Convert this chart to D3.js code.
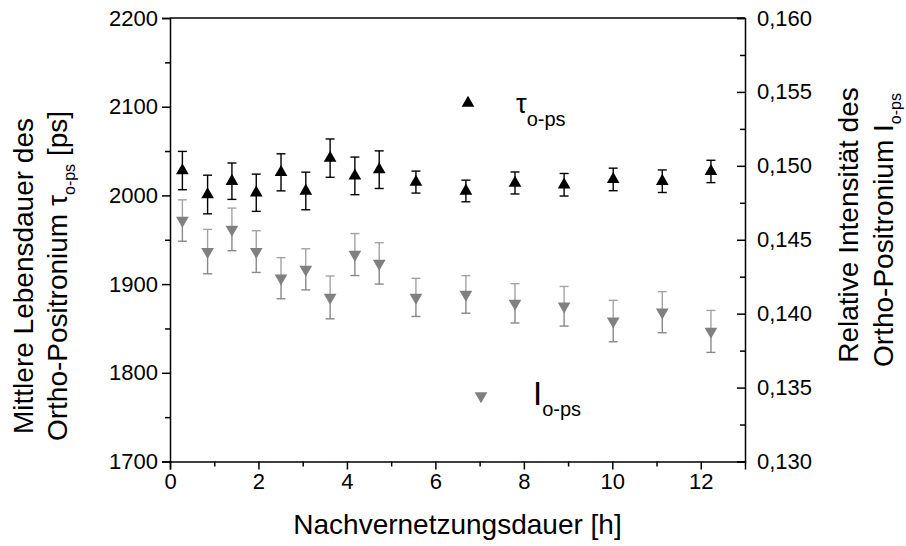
<!DOCTYPE html>
<html>
<head>
<meta charset="utf-8">
<script src="https://cdn.jsdelivr.net/npm/d3@7"></script>
<style>
  html, body { margin: 0; padding: 0; background: #fff; }
  svg { display: block; font-family: "Liberation Sans", Arial, sans-serif; }
</style>
</head>
<body>
<svg id="chart" width="906" height="546"></svg>
<script>
// ---- data ----
const hours  = [0.28, 0.85, 1.40, 1.95, 2.51, 3.07, 3.62, 4.18, 4.73, 5.56, 6.69, 7.80, 8.91, 10.02, 11.13, 12.23];
const tauOps = [2028, 2001, 2016, 2003, 2026, 2005, 2042, 2022, 2029, 2015, 2005, 2014, 2012, 2018, 2016, 2027];
const tauErr = [21.6, 21.8, 20.5, 21.0, 20.9, 21.2, 21.6, 21.2, 21.2, 12.4, 12.2, 12.4, 12.7, 12.7, 12.7, 12.6];
const iOps   = [0.1463, 0.1442, 0.1457, 0.1442, 0.1424, 0.1430, 0.1411, 0.1440, 0.1434, 0.1411, 0.1413, 0.1407, 0.1405, 0.1395, 0.1401, 0.1388];
const iErr   = [0.00140, 0.00150, 0.00144, 0.00141, 0.00139, 0.00139, 0.00145, 0.00142, 0.00140, 0.00129, 0.00127, 0.00133, 0.00134, 0.00140, 0.00139, 0.00142];
const xTicks = [0, 2, 4, 6, 8, 10, 12];
const yLeftTicks = [1700, 1800, 1900, 2000, 2100, 2200];
const yRightTicks = [0.130, 0.135, 0.140, 0.145, 0.150, 0.155, 0.160];

// ---- layout ----
const svg = d3.select("#chart");
const L = 170, R = 745, T = 18, B = 461.5;
const x = d3.scaleLinear().domain([0, 13]).range([L, R]);
const yL = d3.scaleLinear().domain([1700, 2200]).range([B, T]);
const yR = d3.scaleLinear().domain([0.130, 0.160]).range([B, T]);
const fmtR = v => d3.format(".3f")(v).replace(".", ",");

// ---- axes ----
const tickFont = "22px";
const titleFont = "28px";
// bottom
svg.append("g").attr("transform", `translate(0,${B})`)
  .call(d3.axisBottom(x).tickValues(xTicks).tickSize(8).tickPadding(4).tickFormat(d3.format("d")));
svg.append("g").attr("transform", `translate(0,${B})`)
  .call(d3.axisBottom(x).tickValues(d3.range(1, 13, 2)).tickSize(5).tickFormat(""))
  .call(g => g.select(".domain").remove());
// left
svg.append("g").attr("transform", `translate(${L},0)`)
  .call(d3.axisLeft(yL).tickValues(yLeftTicks).tickSize(8).tickPadding(4).tickFormat(d3.format("d")));
svg.append("g").attr("transform", `translate(${L},0)`)
  .call(d3.axisLeft(yL).tickValues(d3.range(1750, 2200, 100)).tickSize(5).tickFormat(""))
  .call(g => g.select(".domain").remove());
// right (ticks pointing inward)
const gr = svg.append("g").attr("transform", `translate(${R},0)`)
  .call(d3.axisRight(yR).tickValues(yRightTicks).tickSize(-8).tickPadding(12).tickFormat(fmtR));
svg.append("g").attr("transform", `translate(${R},0)`)
  .call(d3.axisRight(yR).tickValues([0.1325, 0.1375, 0.1425, 0.1475, 0.1525, 0.1575]).tickSize(-5).tickFormat(""))
  .call(g => g.select(".domain").remove());
// top border
svg.append("line").attr("x1", L).attr("x2", R).attr("y1", T).attr("y2", T)
  .attr("stroke", "#000").attr("stroke-width", 1.5);

svg.selectAll(".domain").attr("stroke", "#000").attr("stroke-width", 1.5);
svg.selectAll(".tick line").attr("stroke", "#000").attr("stroke-width", 1.5);
svg.selectAll(".tick text").attr("font-size", tickFont).attr("fill", "#000")
  .attr("font-family", "'Liberation Sans', Arial, sans-serif");
gr.selectAll(".tick text").attr("x", 12);

// ---- error bars & markers ----
const cap = 4.5;
const tauData = hours.map((h, i) => ({ h, v: tauOps[i], e: tauErr[i] }));
const iData = hours.map((h, i) => ({ h, v: iOps[i], e: iErr[i] }));

// intensity error bars (gray)
const gI = svg.append("g");
iData.forEach(d => {
  const cx = x(d.h), top = yR(d.v + d.e), mid = yR(d.v), bot = yR(d.v - d.e);
  gI.append("line").attr("x1", cx).attr("x2", cx).attr("y1", top).attr("y2", mid).attr("stroke", "#a3a3a3").attr("stroke-width", 1.4);
  gI.append("line").attr("x1", cx - cap).attr("x2", cx + cap).attr("y1", top).attr("y2", top).attr("stroke", "#a3a3a3").attr("stroke-width", 1.4);
  gI.append("line").attr("x1", cx).attr("x2", cx).attr("y1", mid).attr("y2", bot).attr("stroke", "#888").attr("stroke-width", 1.4);
  gI.append("line").attr("x1", cx - cap).attr("x2", cx + cap).attr("y1", bot).attr("y2", bot).attr("stroke", "#888").attr("stroke-width", 1.4);
});
const triUp = d3.symbol().type(d3.symbolTriangle).size(70);
gI.selectAll("path.down").data(iData).join("path").attr("class", "down")
  .attr("d", triUp)
  .attr("transform", d => `translate(${x(d.h)},${yR(d.v)}) rotate(180)`)
  .attr("fill", "#808080");

// tau error bars (black)
const gT = svg.append("g");
tauData.forEach(d => {
  const cx = x(d.h), top = yL(d.v + d.e), bot = yL(d.v - d.e);
  gT.append("line").attr("x1", cx).attr("x2", cx).attr("y1", top).attr("y2", bot).attr("stroke", "#000").attr("stroke-width", 1.4);
  gT.append("line").attr("x1", cx - cap).attr("x2", cx + cap).attr("y1", top).attr("y2", top).attr("stroke", "#000").attr("stroke-width", 1.4);
  gT.append("line").attr("x1", cx - cap).attr("x2", cx + cap).attr("y1", bot).attr("y2", bot).attr("stroke", "#000").attr("stroke-width", 1.4);
});
gT.selectAll("path.up").data(tauData).join("path").attr("class", "up")
  .attr("d", triUp)
  .attr("transform", d => `translate(${x(d.h)},${yL(d.v)})`)
  .attr("fill", "#000");

// ---- legends ----
svg.append("path").attr("d", triUp).attr("transform", "translate(468,103)").attr("fill", "#000");
const lt = svg.append("text").attr("x", 516).attr("y", 113).attr("font-size", "27px").attr("fill", "#000");
lt.append("tspan").text("τ");
lt.append("tspan").attr("font-size", "20px").attr("dy", 13).text("o-ps");

svg.append("path").attr("d", triUp).attr("transform", "translate(481,396) rotate(180)").attr("fill", "#808080");
const li = svg.append("text").attr("x", 533).attr("y", 405).attr("font-size", "33px").attr("fill", "#000");
li.append("tspan").text("I");
li.append("tspan").attr("font-size", "20px").attr("dy", 11).text("o-ps");

// ---- axis titles ----
svg.append("text").attr("x", x(6.5)).attr("y", 534).attr("text-anchor", "middle")
  .attr("font-size", titleFont).attr("fill", "#000").text("Nachvernetzungsdauer [h]");

svg.append("text").attr("transform", "translate(33,276) rotate(-90)")
  .attr("text-anchor", "middle").attr("font-size", titleFont).attr("fill", "#000")
  .text("Mittlere Lebensdauer des");
const lt2 = svg.append("text").attr("transform", "translate(67,276) rotate(-90)")
  .attr("text-anchor", "middle").attr("font-size", titleFont).attr("fill", "#000");
lt2.append("tspan").text("Ortho-Positronium τ");
lt2.append("tspan").attr("font-size", "16px").attr("dy", 8).text("o-ps");
lt2.append("tspan").attr("dy", -8).text(" [ps]");

svg.append("text").attr("transform", "translate(858,225) rotate(-90)")
  .attr("text-anchor", "middle").attr("font-size", titleFont).attr("fill", "#000")
  .text("Relative Intensität des");
const rt2 = svg.append("text").attr("transform", "translate(893,230) rotate(-90)")
  .attr("text-anchor", "middle").attr("font-size", titleFont).attr("fill", "#000");
rt2.append("tspan").text("Ortho-Positronium I");
rt2.append("tspan").attr("font-size", "16px").attr("dy", 8).text("o-ps");
</script>
</body>
</html>
